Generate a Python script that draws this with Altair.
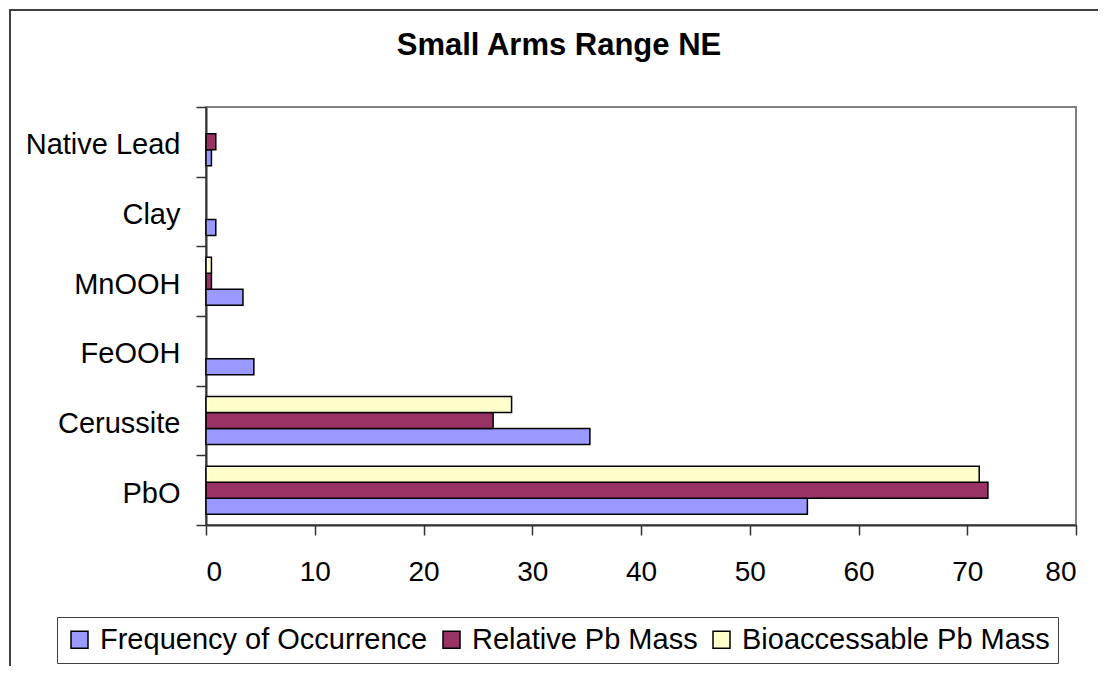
import altair as alt
import pandas as pd

minerals = ["Native Lead", "Clay", "MnOOH", "FeOOH", "Cerussite", "PbO"]
series_names = ["Frequency of Occurrence", "Relative Pb Mass", "Bioaccessable Pb Mass"]
frequency = [0.5, 0.9, 3.4, 4.4, 35.3, 55.3]
relative_pb = [0.9, 0.0, 0.5, 0.0, 26.4, 71.9]
bioaccessable_pb = [0.0, 0.0, 0.5, 0.0, 28.1, 71.1]
series_colors = ["#9999FF", "#993366", "#FFFFCC"]
x_ticks = [0, 10, 20, 30, 40, 50, 60, 70, 80]

rows = []
for name, vals in zip(series_names, [frequency, relative_pb, bioaccessable_pb]):
    for m, v in zip(minerals, vals):
        if v > 0:
            rows.append({"mineral": m, "series": name, "value": v})
df = pd.DataFrame(rows)

FONT = "Liberation Sans"
W, H = 870, 418

bars = alt.Chart(df).mark_bar(stroke="black", strokeWidth=1.5).encode(
    x=alt.X("value:Q",
            scale=alt.Scale(domain=[0, 80], nice=False, zero=True),
            axis=alt.Axis(values=x_ticks, title=None, grid=False, labelFontSize=28,
                          labelFont=FONT, labelColor="black", tickSize=10, tickWidth=1.5,
                          tickColor="#333333", domainColor="#333333", domainWidth=2,
                          labelPadding=23)),
    y=alt.Y("mineral:N", sort=minerals,
            scale=alt.Scale(domain=minerals, paddingInner=0, paddingOuter=0),
            axis=alt.Axis(title=None, tickBand="extent", labelFontSize=29, labelFont=FONT,
                          labelColor="black", labelPadding=16, tickSize=10, tickWidth=1.5,
                          tickColor="#333333", domainColor="#333333", domainWidth=2,
                          labelOffset=3)),
    yOffset=alt.YOffset("series:N",
                        scale=alt.Scale(domain=[series_names[2], series_names[1], series_names[0]],
                                        paddingInner=0, paddingOuter=0.68)),
    color=alt.Color("series:N",
                    scale=alt.Scale(domain=series_names, range=series_colors),
                    legend=alt.Legend(title=None, orient="none", legendX=-149, legendY=510,
                                      direction="horizontal", columns=3, labelLimit=600,
                                      labelFontSize=29, labelFont=FONT, labelColor="black",
                                      symbolType="square", symbolSize=289,
                                      symbolStrokeColor="black", symbolStrokeWidth=1.5,
                                      symbolOpacity=1, labelOffset=6, columnPadding=9,
                                      padding=8, strokeColor="#404040", fillColor="white")),
)

frame = alt.Chart(pd.DataFrame({"a": [0]})).mark_rect(
    fill=None, stroke="#404040", strokeWidth=2
).encode(
    x=alt.value(-196), x2=alt.value(W + 60),
    y=alt.value(-97), y2=alt.value(H + 200),
)

chart = alt.layer(frame, bars).properties(
    width=W, height=H,
    title=alt.TitleParams("Small Arms Range NE", font=FONT, fontSize=31, fontWeight="bold",
                          color="black", anchor="middle", frame="group", dx=-82,
                          baseline="alphabetic", offset=0, dy=77),
    autosize=alt.AutoSizeParams(type="none"),
    padding={"left": 198, "top": 99, "right": 22, "bottom": 141},
    background="white",
).configure_view(stroke="#808080", strokeWidth=2)

chart.save("out.html", embed_options={"renderer": "svg", "actions": False})
